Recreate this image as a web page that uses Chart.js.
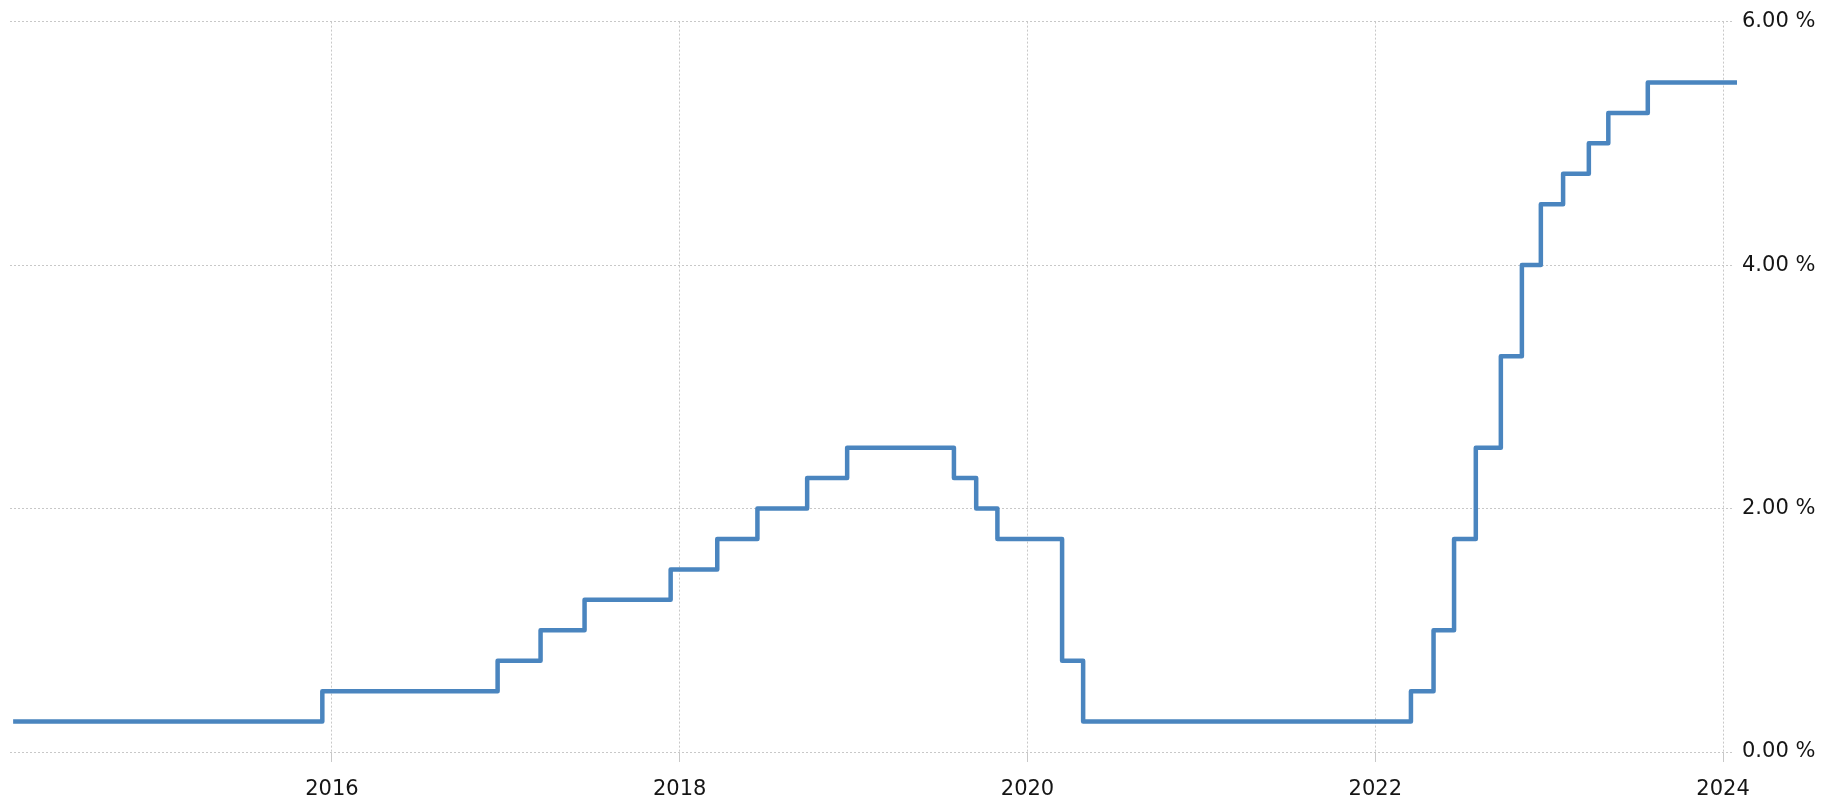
<!DOCTYPE html>
<html>
<head>
<meta charset="utf-8">
<script src="https://cdn.jsdelivr.net/npm/chart.js@4"></script>
<style>
  html, body { margin: 0; padding: 0; background: #fff; }
  #wrap { width: 1831px; height: 802px; position: relative; }
</style>
</head>
<body>
<div id="wrap"><canvas id="graph"></canvas></div>
<script>
// decision dates as decimal years, rate (upper bound, %) from that date on
const dates = [2014.167, 2015.945, 2016.953, 2017.2, 2017.453, 2017.948, 2018.216, 2018.447, 2018.733, 2018.963,
  2019.577, 2019.705, 2019.827, 2020.199, 2020.32,
  2022.205, 2022.335, 2022.453, 2022.578, 2022.722, 2022.843, 2022.952, 2023.08, 2023.228, 2023.34, 2023.567, 2024.08];
const rates = [0.25, 0.5, 0.75, 1, 1.25, 1.5, 1.75, 2, 2.25, 2.5,
  2.25, 2, 1.75, 0.75, 0.25,
  0.5, 1, 1.75, 2.5, 3.25, 4, 4.5, 4.75, 5, 5.25, 5.5, 5.5];
const yearTicks = [2016, 2018, 2020, 2022, 2024];
const rateTicks = [0, 2, 4, 6];

const points = dates.map((d, i) => ({ x: d, y: rates[i] }));

const graph = document.getElementById("graph").getContext("2d");

const myChart = new Chart(graph, {
  type: "line",
  data: {
    datasets: [
      {
        label: "Fed funds rate",
        data: points,
        stepped: true,
        borderColor: "#4a85bf",
        borderWidth: 4.5,
        borderJoinStyle: "round",
        pointRadius: 0,
        fill: false,
        clip: false,
      },
    ],
  },
  options: {
    responsive: true,
    maintainAspectRatio: false,
    animation: false,
    layout: {
      padding: { top: 16, left: 10, right: 0, bottom: 0 },
    },
    plugins: {
      legend: { display: false },
      tooltip: { enabled: false },
    },
    scales: {
      x: {
        type: "linear",
        min: 2014.149,
        max: 2024.057,
        afterBuildTicks: (scale) => {
          scale.ticks = yearTicks.map((v) => ({ value: v }));
        },
        afterFit: (scale) => {
          scale.height = 50;
        },
        ticks: {
          padding: 15,
          color: "#151515",
          font: { family: "DejaVu Sans", size: 21 },
          maxRotation: 0,
          callback: (v) => String(v),
        },
        grid: {
          color: "#c8c8c8",
          lineWidth: 1,
          tickLength: 10,
        },
        border: { display: false, dash: [2, 2] },
      },
      y: {
        position: "right",
        min: 0,
        max: 6,
        afterBuildTicks: (scale) => {
          scale.ticks = rateTicks.map((v) => ({ value: v }));
        },
        afterFit: (scale) => {
          scale.width = 98;
        },
        ticks: {
          padding: 9,
          color: "#151515",
          font: { family: "DejaVu Sans", size: 21 },
          callback: (v) => v.toFixed(2) + " %",
        },
        grid: {
          color: "#c8c8c8",
          lineWidth: 1,
          drawTicks: false,
        },
        border: { display: false, dash: [2, 2] },
      },
    },
  },
});
</script>
</body>
</html>
